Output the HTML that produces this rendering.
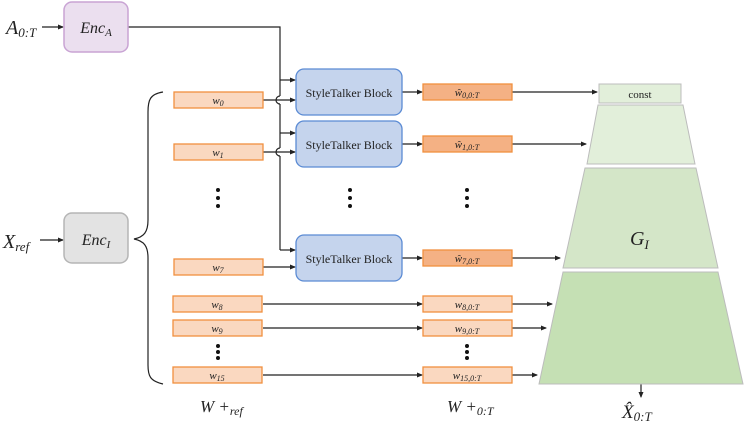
<!DOCTYPE html>
<html><head><meta charset="utf-8"><style>
html,body{margin:0;padding:0;background:#fff;}
svg{display:block;}
text{font-family:"Liberation Serif",serif;fill:#222;}
.it{font-style:italic;}
</style></head><body>
<svg width="747" height="427" viewBox="0 0 747 427" xmlns="http://www.w3.org/2000/svg">
<defs>
<marker id="a" markerWidth="6" markerHeight="6" refX="5" refY="3" orient="auto" markerUnits="userSpaceOnUse"><path d="M0,0.5 L6,3 L0,5.5z" fill="#222"/></marker>
</defs>
<g stroke="#222" stroke-width="1.2" fill="none">
<line x1="42" y1="27" x2="63" y2="27" marker-end="url(#a)"/>
<line x1="40" y1="240" x2="63" y2="240" marker-end="url(#a)"/>
<polyline points="128,27 280,27 280,96"/>
<path d="M280,96 A4,4 0 0 0 280,104"/>
<line x1="280" y1="104" x2="280" y2="148"/>
<path d="M280,148 A4,4 0 0 0 280,156"/>
<line x1="280" y1="156" x2="280" y2="250"/>
<line x1="280" y1="250" x2="295" y2="250" marker-end="url(#a)"/>
<line x1="280" y1="80" x2="295" y2="80" marker-end="url(#a)"/>
<line x1="280" y1="133" x2="295" y2="133" marker-end="url(#a)"/>
<line x1="263" y1="100" x2="295" y2="100" marker-end="url(#a)"/>
<line x1="263" y1="152" x2="295" y2="152" marker-end="url(#a)"/>
<line x1="263" y1="267" x2="295" y2="267" marker-end="url(#a)"/>
<line x1="402" y1="92" x2="422" y2="92" marker-end="url(#a)"/>
<line x1="402" y1="144" x2="422" y2="144" marker-end="url(#a)"/>
<line x1="402" y1="258" x2="422" y2="258" marker-end="url(#a)"/>
<line x1="263" y1="304" x2="422" y2="304" marker-end="url(#a)"/>
<line x1="263" y1="328" x2="422" y2="328" marker-end="url(#a)"/>
<line x1="263" y1="375" x2="422" y2="375" marker-end="url(#a)"/>
<line x1="512" y1="92" x2="597" y2="92" marker-end="url(#a)"/>
<line x1="512" y1="144" x2="586" y2="144" marker-end="url(#a)"/>
<line x1="512" y1="258" x2="560" y2="258" marker-end="url(#a)"/>
<line x1="512" y1="304" x2="552" y2="304" marker-end="url(#a)"/>
<line x1="512" y1="328" x2="546" y2="328" marker-end="url(#a)"/>
<line x1="512" y1="375" x2="537" y2="375" marker-end="url(#a)"/>
<line x1="641" y1="384" x2="641" y2="397" marker-end="url(#a)"/>
<path d="M163,92 C150,94 148,100 148,112 L148,220 C148,232 144,237 134,239 C144,241 148,246 148,258 L148,365 C148,376 150,381 163,384"/>
</g>
<rect x="64" y="2" width="64" height="50" rx="8" fill="#ebdfef" stroke="#c9a4d4" stroke-width="1.5"/>
<text x="96" y="33" class="it" font-size="16" text-anchor="middle">Enc<tspan font-size="11" dy="3">A</tspan></text>
<rect x="64" y="213" width="64" height="50" rx="8" fill="#e3e3e3" stroke="#b5b5b5" stroke-width="1.5"/>
<text x="96" y="245" class="it" font-size="16" text-anchor="middle">Enc<tspan font-size="11" dy="3">I</tspan></text>
<text x="6" y="34" class="it" font-size="20">A<tspan font-size="13" dy="3">0:T</tspan></text>
<text x="3" y="248" class="it" font-size="20">X<tspan font-size="13" dy="3">ref</tspan></text>
<g fill="#c5d4ed" stroke="#5b8bd4" stroke-width="1.3">
<rect x="296" y="69" width="106" height="46" rx="8"/>
<rect x="296" y="121" width="106" height="46" rx="8"/>
<rect x="296" y="235" width="106" height="46" rx="8"/>
</g>
<g font-size="12" text-anchor="middle">
<text x="349" y="97">StyleTalker Block</text>
<text x="349" y="149">StyleTalker Block</text>
<text x="349" y="263">StyleTalker Block</text>
</g>
<g fill="#fad8c0" stroke="#f0903f" stroke-width="1.3">
<rect x="174" y="92" width="89" height="16"/>
<rect x="174" y="144" width="89" height="16"/>
<rect x="174" y="259" width="89" height="16"/>
<rect x="173" y="296" width="89" height="16"/>
<rect x="173" y="320" width="89" height="16"/>
<rect x="173" y="367" width="89" height="16"/>
<rect x="423" y="296" width="89" height="16"/>
<rect x="423" y="320" width="89" height="16"/>
<rect x="423" y="367" width="89" height="16"/>
</g>
<g fill="#f4b184" stroke="#f0903f" stroke-width="1.3">
<rect x="423" y="84" width="89" height="16"/>
<rect x="423" y="136" width="89" height="16"/>
<rect x="423" y="250" width="89" height="16"/>
</g>
<g font-size="11" class="it" text-anchor="middle">
<text x="218" y="104">w<tspan font-size="8" dy="2">0</tspan></text>
<text x="218" y="156">w<tspan font-size="8" dy="2">1</tspan></text>
<text x="218" y="271">w<tspan font-size="8" dy="2">7</tspan></text>
<text x="217" y="308">w<tspan font-size="8" dy="2">8</tspan></text>
<text x="217" y="332">w<tspan font-size="8" dy="2">9</tspan></text>
<text x="217" y="379">w<tspan font-size="8" dy="2">15</tspan></text>
<text x="467" y="96">ŵ<tspan font-size="8" dy="2">0,0:T</tspan></text>
<text x="467" y="148">ŵ<tspan font-size="8" dy="2">1,0:T</tspan></text>
<text x="467" y="262">ŵ<tspan font-size="8" dy="2">7,0:T</tspan></text>
<text x="467" y="308">w<tspan font-size="8" dy="2">8,0:T</tspan></text>
<text x="467" y="332">w<tspan font-size="8" dy="2">9,0:T</tspan></text>
<text x="467" y="379">w<tspan font-size="8" dy="2">15,0:T</tspan></text>
</g>
<g fill="#111">
<circle cx="218" cy="190" r="2"/><circle cx="218" cy="198" r="2"/><circle cx="218" cy="206" r="2"/>
<circle cx="350" cy="190" r="2"/><circle cx="350" cy="198" r="2"/><circle cx="350" cy="206" r="2"/>
<circle cx="467" cy="190" r="2"/><circle cx="467" cy="198" r="2"/><circle cx="467" cy="206" r="2"/>
<circle cx="218" cy="346" r="2"/><circle cx="218" cy="352" r="2"/><circle cx="218" cy="358" r="2"/>
<circle cx="467" cy="346" r="2"/><circle cx="467" cy="352" r="2"/><circle cx="467" cy="358" r="2"/>
</g>
<rect x="599" y="84" width="82" height="19" fill="#e2efda" stroke="#bcbcbc" stroke-width="1"/>
<text x="640" y="98" font-size="11" text-anchor="middle">const</text>
<polygon points="598,105 683,105 695,164 587,164" fill="#e2efda" stroke="#bcbcbc" stroke-width="1"/>
<polygon points="585,168 696,168 718,268 563,268" fill="#d4e6c8" stroke="#bcbcbc" stroke-width="1"/>
<polygon points="563,272 718,272 743,384 539,384" fill="#c5e0b4" stroke="#bcbcbc" stroke-width="1"/>
<text x="630" y="245" class="it" font-size="20">G<tspan font-size="13" dy="4">I</tspan></text>
<text x="200" y="412" class="it" font-size="17">W +<tspan font-size="12" dy="3">ref</tspan></text>
<text x="447" y="412" class="it" font-size="17">W +<tspan font-size="12" dy="3">0:T</tspan></text>
<text x="622" y="418" class="it" font-size="19">X̂<tspan font-size="13" dy="3">0:T</tspan></text>
</svg>
</body></html>
